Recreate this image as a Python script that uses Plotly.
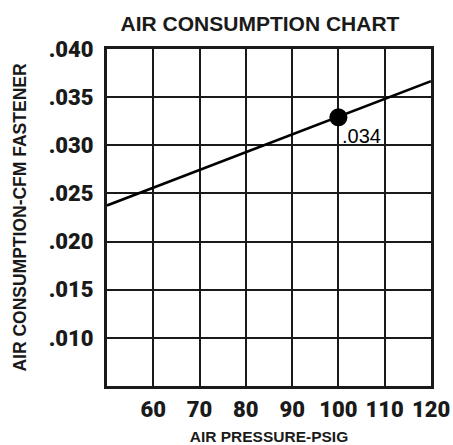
import plotly.graph_objects as go

# Data
pressure_psig = [50, 120]
cfm_per_fastener = [0.02375, 0.03666]
point_pressure = [100]
point_cfm = [0.0329]
point_label = ".034"

x_ticks = [60, 70, 80, 90, 100, 110, 120]
x_tick_labels = ["60", "70", "80", "90", "100", "110", "120"]
y_ticks = [0.010, 0.015, 0.020, 0.025, 0.030, 0.035, 0.040]
y_tick_labels = [".010", ".015", ".020", ".025", ".030", ".035", ".040"]

tick_font = dict(family="Roboto", size=22, color="#1a1a1a", weight=900)

fig = go.Figure()
fig.add_trace(go.Scatter(x=pressure_psig, y=cfm_per_fastener, mode="lines",
                         line=dict(color="black", width=2.5), showlegend=False,
                         hoverinfo="skip"))
fig.add_trace(go.Scatter(x=point_pressure, y=point_cfm, mode="markers",
                         marker=dict(color="black", size=18), showlegend=False))
fig.add_annotation(x=point_pressure[0], y=point_cfm[0], text=point_label,
                   showarrow=False, xanchor="left", yanchor="middle",
                   xshift=2, yshift=-19,
                   font=dict(family="Liberation Sans, Arial", size=20, color="black"))

fig.update_layout(
    width=453, height=445,
    margin=dict(l=107, r=22, t=49, b=59, autoexpand=False),
    paper_bgcolor="white", plot_bgcolor="white",
    title=dict(text="<b>AIR CONSUMPTION CHART</b>", x=260/453, xanchor="center",
               y=1-24/445, yanchor="middle", xref="container", yref="container",
               font=dict(family="Liberation Sans, Arial", size=21, color="#1a1a1a")),
    xaxis=dict(range=[50, 120], tickvals=x_ticks, ticktext=x_tick_labels,
               showgrid=True, gridcolor="#1a1a1a", gridwidth=2,
               showline=True, linecolor="#1a1a1a", linewidth=3, mirror=True,
               ticks="", ticklabelstandoff=2, zeroline=False, automargin=False,
               tickfont=tick_font,
               title=dict(text="<b>AIR PRESSURE-PSIG</b>", standoff=14,
                          font=dict(family="Liberation Sans, Arial", size=15.5, color="#1a1a1a"))),
    yaxis=dict(range=[0.005, 0.040], tickvals=y_ticks, ticktext=y_tick_labels,
               showgrid=True, gridcolor="#1a1a1a", gridwidth=2,
               showline=True, linecolor="#1a1a1a", linewidth=3, mirror=True,
               ticks="", ticklabelstandoff=6, zeroline=False, automargin=False,
               tickfont=tick_font,
               title=dict(text="<b>AIR CONSUMPTION-CFM FASTENER</b>", standoff=18,
                          font=dict(family="Liberation Sans, Arial", size=17.5, color="#1a1a1a"))),
)

fig.write_html("out.html", config={"displayModeBar": False},
               post_script="document.body.style.margin='0';document.body.style.overflow='hidden';")
